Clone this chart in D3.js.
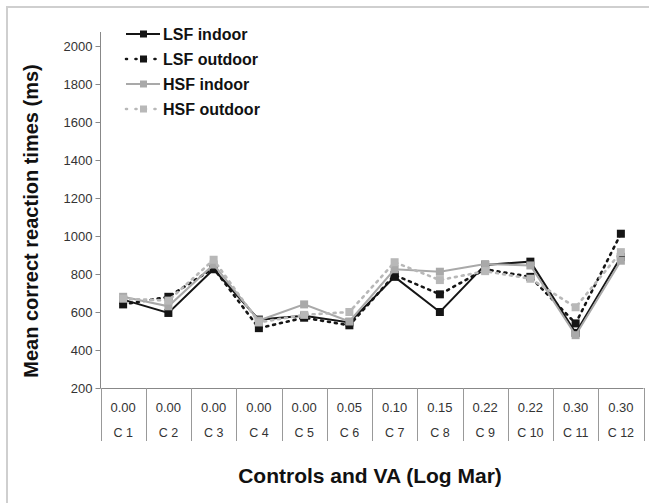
<!DOCTYPE html>
<html>
<head>
<meta charset="utf-8">
<script src="https://cdn.jsdelivr.net/npm/d3@7"></script>
<style>
  body { margin: 0; background: #fff; }
  svg { display: block; font-family: "Liberation Sans", Arial, sans-serif; }
</style>
</head>
<body>
<svg></svg>
<script>
// data
var cats = ["C 1","C 2","C 3","C 4","C 5","C 6","C 7","C 8","C 9","C 10","C 11","C 12"];
var logMar = ["0.00","0.00","0.00","0.00","0.00","0.05","0.10","0.15","0.22","0.22","0.30","0.30"];
var lsfIndoor  = [665, 595, 825, 560, 580, 545, 785, 600, 848, 865, 490, 890];
var lsfOutdoor = [640, 680, 830, 515, 570, 530, 795, 693, 825, 785, 540, 1012];
var hsfIndoor  = [680, 630, 850, 555, 640, 550, 825, 812, 852, 845, 478, 870];
var hsfOutdoor = [670, 660, 875, 545, 585, 600, 862, 768, 815, 775, 625, 915];
var yTicks = [200,400,600,800,1000,1200,1400,1600,1800,2000];

start();

function start(){
  var width = 649, height = 504;
  var svg = d3.select("svg").attr("width",width).attr("height",height);

  // outer frame
  svg.append("path")
     .attr("d","M7,503 L7,7 L649,7")
     .attr("fill","none")
     .attr("stroke","#cfcfcf")
     .attr("stroke-width",2);

  var x = d3.scaleBand().domain(cats).range([100.5,643.5]);
  var y = d3.scaleLinear().domain([200,2000]).range([388,46]);

  var series = [
    {name:"LSF indoor",  values:lsfIndoor,  color:"#151515", dash:null},
    {name:"LSF outdoor", values:lsfOutdoor, color:"#151515", dash:"2,5"},
    {name:"HSF indoor",  values:hsfIndoor,  color:"#a9a9a9", dash:null},
    {name:"HSF outdoor", values:hsfOutdoor, color:"#b8b8b8", dash:"2,5"}
  ];

  // y axis
  var yAxis = svg.append("g")
                 .attr("transform","translate(100.5,0)")
                 .call(d3.axisLeft(y).tickValues(yTicks).tickFormat(d3.format("d")).tickSize(5).tickPadding(3));
  yAxis.select(".domain").remove();
  yAxis.selectAll("line").attr("stroke","#888");
  yAxis.selectAll("text")
       .attr("fill","#333")
       .style("font-size","13px")
       .style("font-family","'Liberation Sans', Arial, sans-serif");
  svg.append("line")
     .attr("x1",100.5).attr("x2",100.5)
     .attr("y1",32).attr("y2",388)
     .attr("stroke","#888");

  // x axis with data table
  svg.append("line")
     .attr("x1",100.5).attr("x2",643.5)
     .attr("y1",388.5).attr("y2",388.5)
     .attr("stroke","#888");

  var bounds = [x(cats[0])].concat(cats.map(function(c){ return x(c)+x.bandwidth(); }));
  svg.selectAll("line.div")
     .data(bounds)
     .enter()
     .append("line")
     .attr("class","div")
     .attr("x1",function(d){ return Math.round(d)+0.5; })
     .attr("x2",function(d){ return Math.round(d)+0.5; })
     .attr("y1",388)
     .attr("y2",441)
     .attr("stroke","#999");

  svg.selectAll("text.va")
     .data(logMar)
     .enter()
     .append("text")
     .attr("class","va")
     .attr("x",function(d,i){ return x(cats[i])+x.bandwidth()/2; })
     .attr("y",412)
     .attr("text-anchor","middle")
     .attr("fill","#333")
     .style("font-size","13px")
     .text(function(d){ return d; });

  svg.selectAll("text.cat")
     .data(cats)
     .enter()
     .append("text")
     .attr("class","cat")
     .attr("x",function(d){ return x(d)+x.bandwidth()/2; })
     .attr("y",437)
     .attr("text-anchor","middle")
     .attr("fill","#333")
     .style("font-size","12.5px")
     .text(function(d){ return d; });

  // lines and markers
  var line = d3.line()
               .x(function(d,i){ return x(cats[i])+x.bandwidth()/2; })
               .y(function(d){ return y(d); });

  var g = svg.selectAll("g.series")
             .data(series)
             .enter()
             .append("g")
             .attr("class","series");

  g.append("path")
   .attr("d",function(s){ return line(s.values); })
   .attr("fill","none")
   .attr("stroke",function(s){ return s.color; })
   .attr("stroke-width",function(s){ return s.dash ? 2.6 : 2; })
   .attr("stroke-linecap",function(s){ return s.dash ? "round" : "butt"; })
   .attr("stroke-dasharray",function(s){ return s.dash; });

  g.selectAll("rect")
   .data(function(s){ return s.values.map(function(v,i){ return {v:v,i:i,c:s.color}; }); })
   .enter()
   .append("rect")
   .attr("x",function(d){ return x(cats[d.i])+x.bandwidth()/2-4; })
   .attr("y",function(d){ return y(d.v)-4; })
   .attr("width",8)
   .attr("height",8)
   .attr("fill",function(d){ return d.c; });

  // legend
  var leg = svg.selectAll("g.leg")
               .data(series)
               .enter()
               .append("g")
               .attr("class","leg")
               .attr("transform",function(d,i){ return "translate(126,"+(34+i*25)+")"; });
  leg.append("line")
     .attr("x1",0).attr("x2",34)
     .attr("y1",0).attr("y2",0)
     .attr("stroke",function(d){ return d.color; })
     .attr("stroke-width",function(d){ return d.dash ? 2.6 : 2; })
     .attr("stroke-linecap",function(d){ return d.dash ? "round" : "butt"; })
     .attr("stroke-dasharray",function(d){ return d.dash ? "1,8.5" : null; });
  leg.append("rect")
     .attr("x",14).attr("y",-3.5)
     .attr("width",7).attr("height",7)
     .attr("fill",function(d){ return d.color; });
  leg.append("text")
     .attr("x",37)
     .attr("y",6)
     .attr("fill","#111")
     .style("font-size","16px")
     .style("font-weight","bold")
     .text(function(d){ return d.name; });

  // axis titles
  svg.append("text")
     .attr("transform","translate(38,221) rotate(-90)")
     .attr("text-anchor","middle")
     .attr("fill","#111")
     .style("font-size","20px")
     .style("font-weight","bold")
     .text("Mean correct reaction times (ms)");

  svg.append("text")
     .attr("x",370)
     .attr("y",483)
     .attr("text-anchor","middle")
     .attr("fill","#111")
     .style("font-size","21px")
     .style("font-weight","bold")
     .text("Controls and VA (Log Mar)");
}
</script>
</body>
</html>
